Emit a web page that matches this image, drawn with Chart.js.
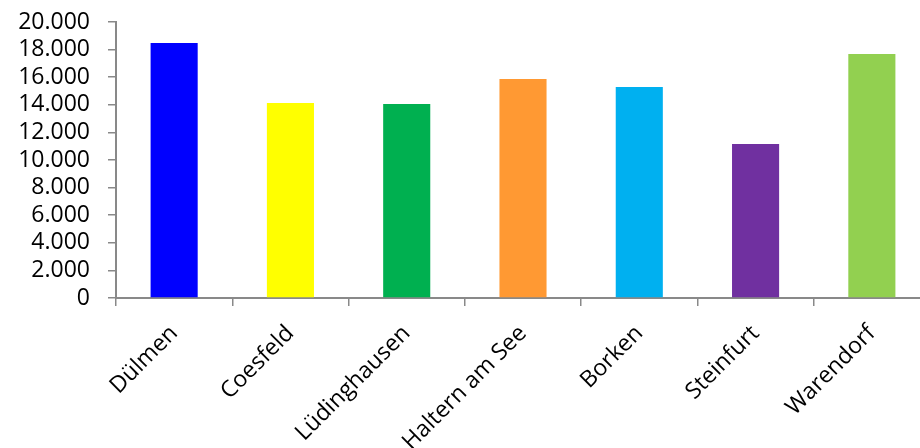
<!DOCTYPE html>
<html>
<head>
<meta charset="utf-8">
<script src="https://cdn.jsdelivr.net/npm/chart.js@4/dist/chart.umd.min.js"></script>
<style>
  html, body { margin: 0; padding: 0; background: #ffffff; overflow: hidden; }
  #wrap { position: relative; width: 930px; height: 448px; }
</style>
</head>
<body>
<div id="wrap"><canvas id="c"></canvas></div>
<script>
const categories = ['Dülmen', 'Coesfeld', 'Lüdinghausen', 'Haltern am See', 'Borken', 'Steinfurt', 'Warendorf'];
const values = [18480, 14130, 14060, 15870, 15290, 11160, 17680];
const barColors = ['#0000FF', '#FFFF00', '#00B050', '#FF9933', '#00B0F0', '#7030A0', '#92D050'];
const yTickValues = [0, 2000, 4000, 6000, 8000, 10000, 12000, 14000, 16000, 18000, 20000];
const yTickLabels = ['0', '2.000', '4.000', '6.000', '8.000', '10.000', '12.000', '14.000', '16.000', '18.000', '20.000'];

const axisColor = '#898989';
const fontFamily = '"Open Sans", "Liberation Sans", sans-serif';

new Chart(document.getElementById('c'), {
  type: 'bar',
  data: {
    labels: categories,
    datasets: [{
      data: values,
      backgroundColor: barColors,
      borderWidth: 0,
      barPercentage: 0.81,
      categoryPercentage: 0.5
    }]
  },
  options: {
    responsive: true,
    maintainAspectRatio: false,
    animation: false,
    layout: { padding: { top: 22, left: 0, right: 0, bottom: 0 } },
    plugins: { legend: { display: false }, tooltip: { enabled: false } },
    scales: {
      x: {
        grid: { display: true, drawOnChartArea: false, drawTicks: true, tickLength: 8, color: axisColor, lineWidth: 1.5, offset: true },
        border: { display: true, color: axisColor, width: 2 },
        ticks: {
          color: '#000000',
          font: { family: fontFamily, size: 23 },
          minRotation: 45, maxRotation: 45,
          padding: 14,
          autoSkip: false
        },
        afterFit: (s) => { s.height = 150; }
      },
      y: {
        min: 0, max: 20000,
        afterBuildTicks: (s) => { s.ticks = yTickValues.map(v => ({ value: v })); },
        grid: { display: true, drawOnChartArea: false, drawTicks: true, tickLength: 8, color: axisColor, lineWidth: 1.5 },
        border: { display: true, color: axisColor, width: 2 },
        ticks: {
          color: '#000000',
          font: { family: fontFamily, size: 23 },
          padding: 18,
          autoSkip: false,
          callback: (v, i) => yTickLabels[i]
        },
        afterFit: (s) => { s.width = 116; s.paddingTop = 0; s.paddingBottom = 0; }
      }
    }
  }
});
</script>
</body>
</html>
